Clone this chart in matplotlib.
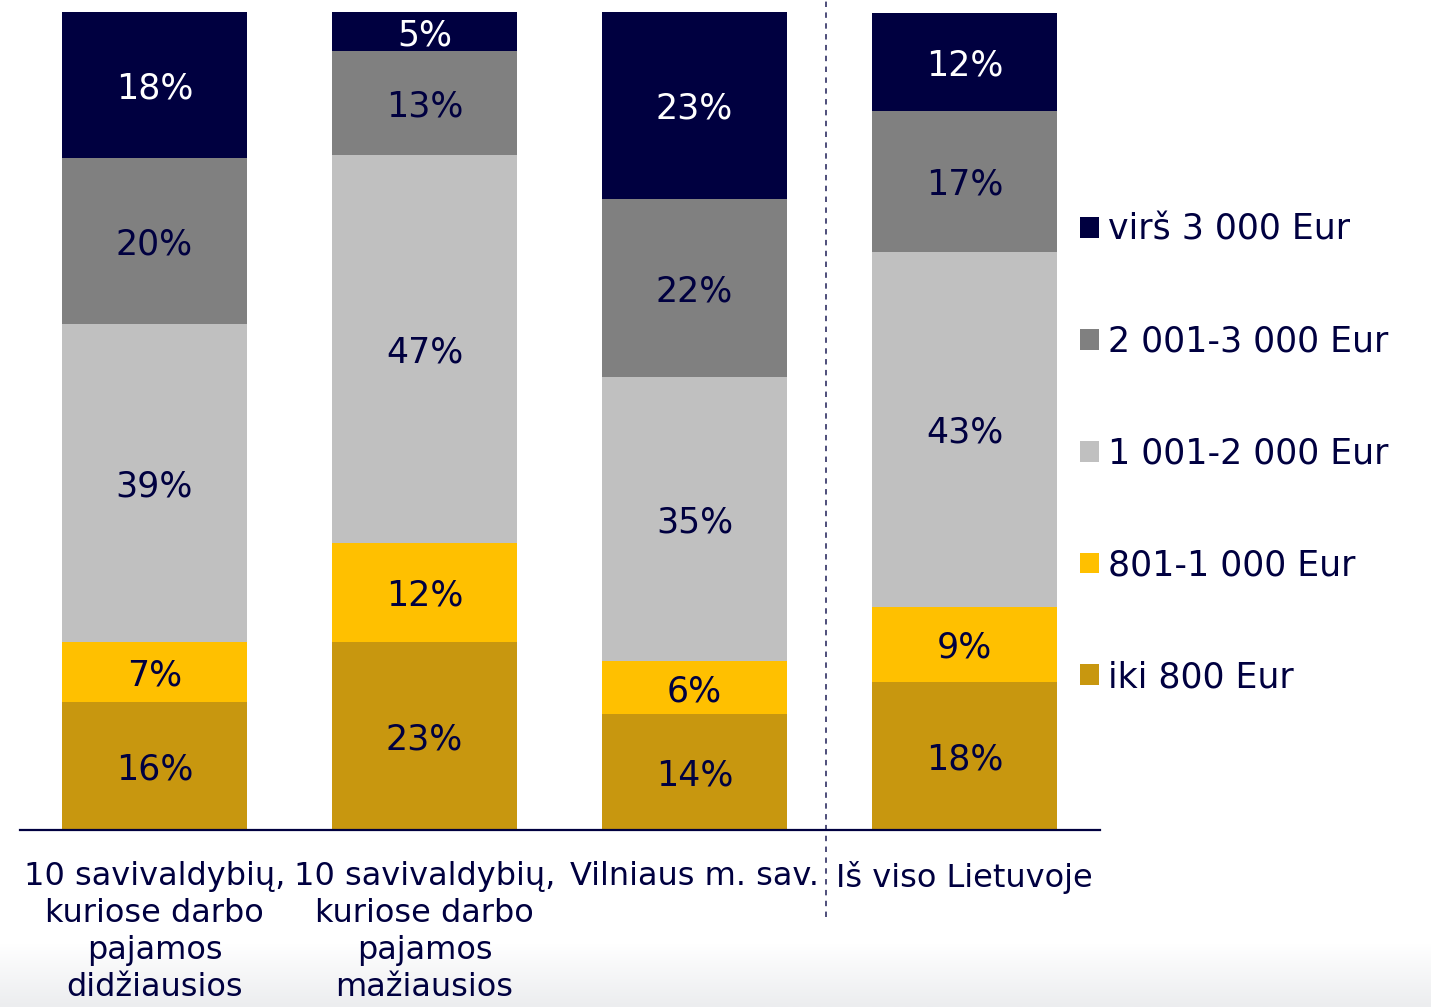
import numpy as np
import matplotlib
matplotlib.use("Agg")
import matplotlib.pyplot as plt
from matplotlib.patches import Patch

# data (shares of workers by gross wage, %)
categories = ["10 savivaldybių,\nkuriose darbo\npajamos\ndidžiausios",
              "10 savivaldybių,\nkuriose darbo\npajamos\nmažiausios",
              "Vilniaus m. sav.",
              "Iš viso Lietuvoje"]
iki_800 = [15.6, 23.0, 14.2, 18.1]
r801_1000 = [7.4, 12.1, 6.4, 9.2]
r1001_2000 = [38.9, 47.4, 34.8, 43.4]
r2001_3000 = [20.3, 12.7, 21.8, 17.2]
virs_3000 = [17.8, 4.8, 22.9, 12.0]

series_names = ["iki 800 Eur", "801-1 000 Eur", "1 001-2 000 Eur",
                "2 001-3 000 Eur", "virš 3 000 Eur"]
series = [iki_800, r801_1000, r1001_2000, r2001_3000, virs_3000]
colors = ["#C8970F", "#FFC000", "#C0C0C0", "#808080", "#000040"]
text_colors = ["#000040", "#000040", "#000040", "#000040", "#FFFFFF"]
navy = "#000040"

plt.rcParams['font.family'] = ['DejaVu Sans']

fig = plt.figure(figsize=(14.31, 10.07), dpi=100)

# faint grey band at the bottom of the slide
bg = fig.add_axes([0, 0, 1, 64 / 1007])
grad = np.linspace(0, 1, 50).reshape(-1, 1)
bg.imshow(grad, aspect="auto", cmap=matplotlib.colors.LinearSegmentedColormap.from_list(
    "g", ["#ECEDEF", "#FFFFFF"]), origin="lower", extent=[0, 1, 0, 1])
bg.axis("off")

ax = fig.add_axes([19.5 / 1431, 177 / 1007, 1080 / 1431, 818 / 1007])
ax.patch.set_alpha(0)

x = np.arange(len(categories))
bottom = np.zeros(len(categories))
for vals, col, tcol in zip(series, colors, text_colors):
    vals = np.array(vals)
    ax.bar(x, vals, width=0.685, bottom=bottom, color=col, edgecolor="none")
    for xi, b, v in zip(x, bottom, vals):
        ax.text(xi, b + v / 2, f"{v:.0f}%", ha="center", va="center_baseline",
                fontsize=25, color=tcol)
    bottom += vals

ax.set_xlim(-0.5, 3.5)
ax.set_ylim(0, 100)
for s in ["top", "right", "left"]:
    ax.spines[s].set_visible(False)
ax.spines["bottom"].set_color(navy)
ax.spines["bottom"].set_linewidth(1.6)
ax.set_yticks([])
ax.set_xticks(x)
ax.set_xticklabels(categories, fontsize=23, color=navy, linespacing=1.25)
ax.tick_params(axis="x", length=0, pad=22)

# dashed separator before the national total
ax.axvline(2.487, ymin=-0.106, ymax=1.015, color="#404070", lw=1.3,
           linestyle=(0, (3, 3)), clip_on=False)

handles = [Patch(facecolor=c, edgecolor="none") for c in colors][::-1]
leg = fig.legend(handles, series_names[::-1], loc="center left",
                 bbox_to_anchor=(1080 / 1431, 1 - 453.5 / 1007),
                 frameon=False, fontsize=25, labelcolor=navy,
                 handlelength=0.55, handleheight=0.55, handletextpad=0.27,
                 labelspacing=2.24, borderpad=0, borderaxespad=0)

fig.savefig("out.png", dpi=100)
